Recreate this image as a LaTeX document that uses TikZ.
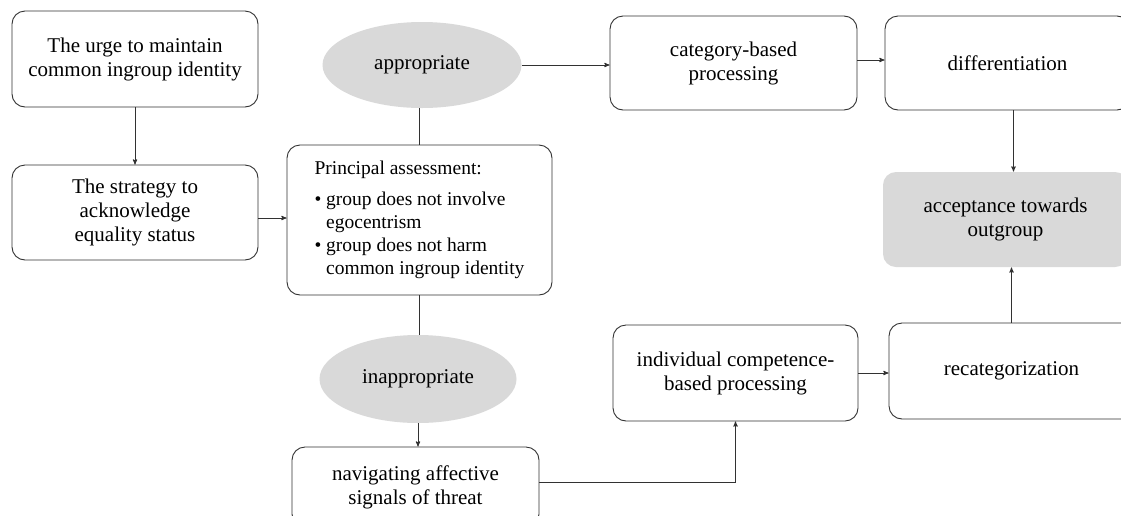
\documentclass[tikz,border=0pt]{standalone}
\usepackage{fontspec}
\setmainfont{Liberation Serif}
\usepackage{tikz}
\usetikzlibrary{arrows,shapes.geometric}

\definecolor{boxgray}{RGB}{217,217,217}
\definecolor{linegray}{RGB}{50,50,50}

\tikzset{
  stage/.style={draw=linegray, line width=0.9pt, rounded corners=13pt, align=center,
    inner sep=0pt, font=\fontsize{21}{24}\selectfont},
  outcome/.style={fill=boxgray, rounded corners=13pt, align=center, inner sep=0pt,
    font=\fontsize{21}{24}\selectfont},
  answer/.style={ellipse, fill=boxgray, inner sep=0pt, font=\fontsize{21}{24}\selectfont}
}

\begin{document}
\begin{tikzpicture}[x=1pt,y=1pt,>=stealth',line width=0.9pt,draw=linegray]
\clip (0,0) rectangle (1121,-515);
\fill[white] (0,0) rectangle (1121,-515);

\node[stage, minimum width=246pt, minimum height=96pt] (urge) at (135,-59) {The urge to maintain\\common ingroup identity};
\node[stage, minimum width=246pt, minimum height=95pt] (strategy) at (135,-212.5) {The strategy to\\acknowledge\\equality status};
\node[answer, minimum width=199pt, minimum height=86pt] (appr) at (422,-65) {appropriate};
\node[stage, minimum width=265pt, minimum height=150pt, align=left,
  font=\fontsize{19.5}{23}\selectfont] (assess) at (419.5,-220)
  {Principal assessment:\\[8pt]
   \textbullet\ group does not involve\\
   \hphantom{\textbullet\ }egocentrism\\
   \textbullet\ group does not harm\\
   \hphantom{\textbullet\ }common ingroup identity};
\node[answer, minimum width=197pt, minimum height=88pt] (inappr) at (418,-379) {inappropriate};
\node[stage, minimum width=247pt, minimum height=80pt] (navig) at (415.5,-487) {navigating affective\\signals of threat};
\node[stage, minimum width=245pt, minimum height=96pt] (indiv) at (735.5,-373) {individual competence-\\based processing};
\node[stage, minimum width=247pt, minimum height=94pt] (categ) at (733.5,-63) {category-based\\processing};
\node[stage, minimum width=245pt, minimum height=94pt] (diff) at (1007.5,-63) {differentiation};
\node[outcome, minimum width=245pt, minimum height=95pt] (accept) at (1005.5,-219.5) {acceptance towards\\outgroup};
\node[stage, minimum width=245pt, minimum height=96pt] (recat) at (1011.5,-371) {recategorization};

% left column
\draw[->] (urge.south) -- (strategy.north);
\draw[->] ([yshift=-5.5pt]strategy.east) -- ([yshift=-5.5pt]strategy.east -| assess.west);
% assessment outcomes
\draw (assess.north) -- (assess.north |- appr.south);
\draw (assess.south) -- (assess.south |- inappr.north);
\draw[->] (inappr.south) -- (inappr.south |- navig.north);
% upper route
\draw[->] (appr.east) -- (categ.west |- appr.east);
\draw[->] ([yshift=3pt]categ.east) -- ([yshift=3pt]diff.west);
\draw[->] ([xshift=6pt]diff.south) -- ([xshift=6pt]diff.south |- accept.north);
% lower route
\draw[->] ([yshift=5pt]navig.east) -| (indiv.south);
\draw[->] (indiv.east) -- (recat.west |- indiv.east);
\draw[->] (recat.north) -- (recat.north |- accept.south);
\end{tikzpicture}
\end{document}
